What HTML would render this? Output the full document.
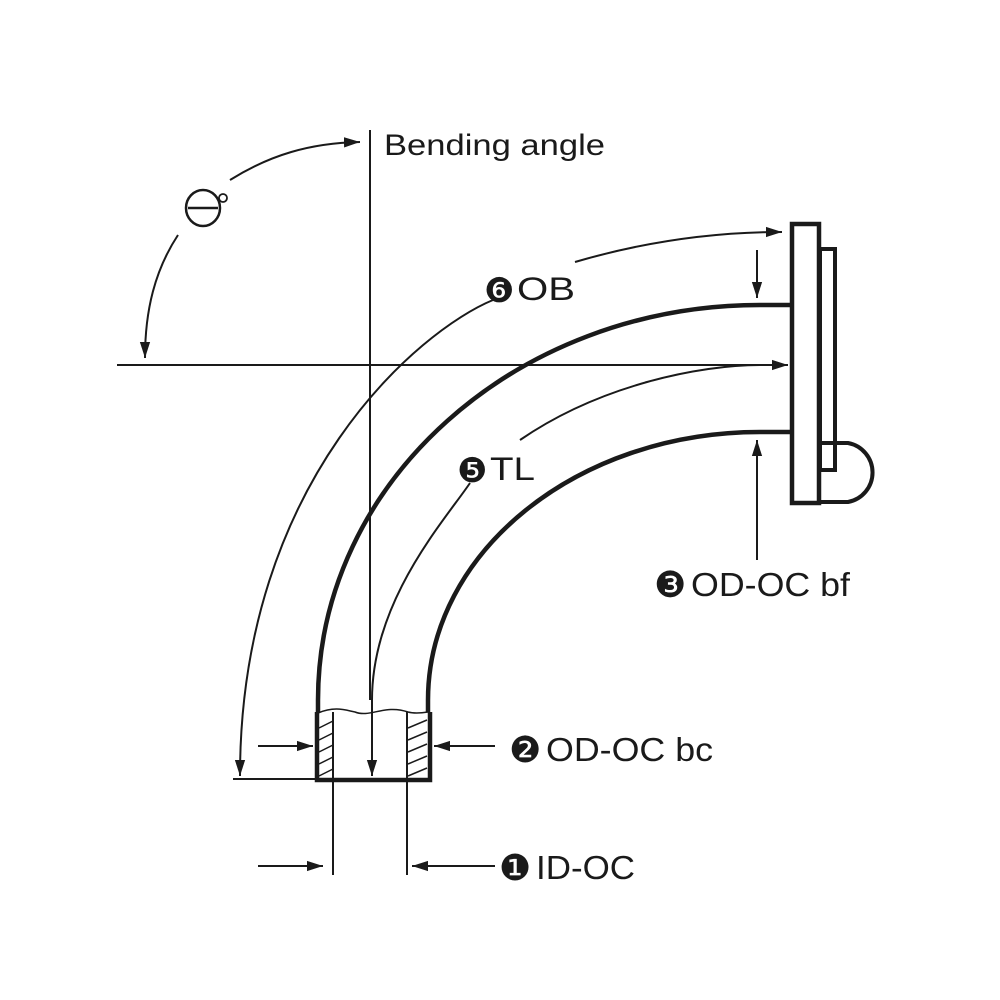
<!DOCTYPE html>
<html><head><meta charset="utf-8"><style>
html,body{margin:0;padding:0;background:#fff;}
svg{display:block;}
text{font-family:"Liberation Sans","DejaVu Sans",sans-serif;fill:#1a1a1a;}
.n{font-family:"DejaVu Sans",sans-serif;}
</style></head><body>
<svg width="1000" height="1000" viewBox="0 0 1000 1000" xmlns="http://www.w3.org/2000/svg">
<defs>
<marker id="b" viewBox="0 0 10 10" refX="10" refY="5" markerWidth="16" markerHeight="16" markerUnits="userSpaceOnUse" orient="auto">
<path d="M0,1.8 L10,5 L0,8.2 z" fill="#1a1a1a"/></marker>
</defs>
<g stroke="#1a1a1a" fill="none">
<line x1="370" y1="130" x2="370" y2="700" stroke-width="2"/>
<line x1="117" y1="365" x2="788" y2="365" stroke-width="2" marker-end="url(#b)"/>
<path d="M318,712 L318,700 C318,482 516,305 760,305 L792,305" stroke-width="4.5"/>
<path d="M428,712 L428,700 C428,552 577,432 760,432 L792,432" stroke-width="4.5"/>
<path d="M317,712 L317,780 L430,780 L430,712" stroke-width="4.5"/>
<path d="M318,713 C335,706 345,710 355,712 C370,718 385,704 408,712 C415,714 422,713 428,712" stroke-width="1.5"/>
<line x1="333" y1="712" x2="333" y2="875" stroke-width="2"/>
<line x1="407" y1="712" x2="407" y2="875" stroke-width="2"/>
<g stroke-width="1.5">
<line x1="319" y1="728" x2="333" y2="721"/><line x1="319" y1="740" x2="333" y2="733"/><line x1="319" y1="752" x2="333" y2="745"/><line x1="319" y1="764" x2="333" y2="757"/><line x1="319" y1="776" x2="333" y2="769"/>
<line x1="408" y1="728" x2="427" y2="720"/><line x1="408" y1="740" x2="427" y2="732"/><line x1="408" y1="752" x2="427" y2="744"/><line x1="408" y1="764" x2="427" y2="756"/><line x1="408" y1="776" x2="427" y2="768"/>
</g>
<path d="M470,483 C445,520 372,600 372,700 L372,776" stroke-width="2" marker-end="url(#b)"/>
<path d="M520,440 C600,385 700,365 760,365" stroke-width="2"/>
<path d="M493,300 C420,330 240,480 240,776" stroke-width="2" marker-end="url(#b)"/>
<path d="M575,262 C650,240 720,232 782,232" stroke-width="2" marker-end="url(#b)"/>
<line x1="233" y1="779" x2="317" y2="779" stroke-width="2"/>
<path d="M230,180 C270,155 310,143 360,142" stroke-width="2" marker-end="url(#b)"/>
<path d="M178,235 C155,270 145,310 145,358" stroke-width="2" marker-end="url(#b)"/>
<rect x="792" y="224" width="27" height="279" stroke-width="4.5" fill="#fff"/>
<rect x="820" y="249" width="15" height="221" stroke-width="4"/>
<path d="M820,443 L848,443 A30,30 0 0 1 848,502 L820,502" stroke-width="4"/>
<line x1="757" y1="250" x2="757" y2="298" stroke-width="2" marker-end="url(#b)"/>
<line x1="757" y1="560" x2="757" y2="440" stroke-width="2" marker-end="url(#b)"/>
<line x1="258" y1="746" x2="313" y2="746" stroke-width="2" marker-end="url(#b)"/>
<line x1="495" y1="746" x2="434" y2="746" stroke-width="2" marker-end="url(#b)"/>
<line x1="258" y1="866" x2="323" y2="866" stroke-width="2" marker-end="url(#b)"/>
<line x1="495" y1="866" x2="412" y2="866" stroke-width="2" marker-end="url(#b)"/>
<ellipse cx="203" cy="208" rx="17" ry="18" stroke-width="2.5"/>
<line x1="188" y1="208" x2="218" y2="208" stroke-width="2.5"/>
<circle cx="223" cy="198" r="4" stroke-width="1.8"/>
</g>
<text x="384" y="155" font-size="30" textLength="221" lengthAdjust="spacingAndGlyphs">Bending angle</text>
<text class="n" x="484" y="302" font-size="34">❻</text>
<text x="517" y="300" font-size="32" textLength="58" lengthAdjust="spacingAndGlyphs">OB</text>
<text class="n" x="457" y="482" font-size="34">❺</text>
<text x="490" y="480" font-size="32" textLength="45" lengthAdjust="spacingAndGlyphs">TL</text>
<text class="n" x="654" y="597" font-size="36">❸</text>
<text x="691" y="596" font-size="33" textLength="159" lengthAdjust="spacingAndGlyphs">OD-OC bf</text>
<text class="n" x="509" y="762" font-size="36">❷</text>
<text x="546" y="761" font-size="33" textLength="167" lengthAdjust="spacingAndGlyphs">OD-OC bc</text>
<text class="n" x="499" y="880" font-size="36">❶</text>
<text x="536" y="879" font-size="33" textLength="99" lengthAdjust="spacingAndGlyphs">ID-OC</text>
</svg>
</body></html>
